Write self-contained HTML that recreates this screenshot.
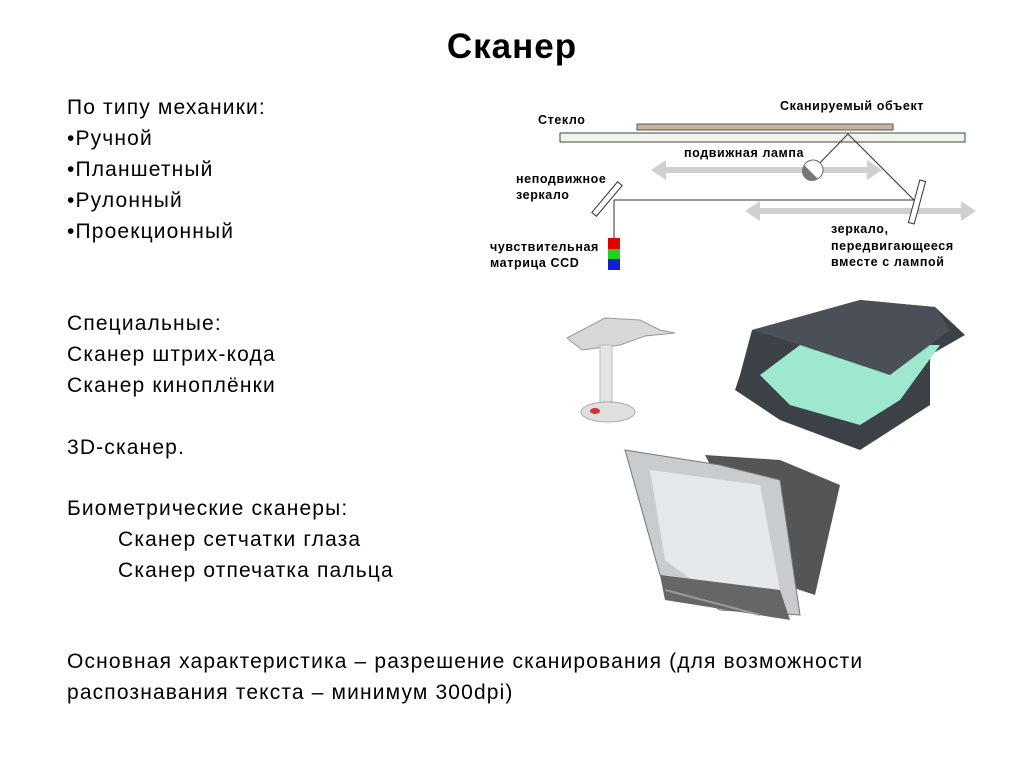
<!DOCTYPE html>
<html><head><meta charset="utf-8"><style>
body{margin:0;width:1024px;height:768px;background:#fff;overflow:hidden;position:relative;font-family:"Liberation Sans",sans-serif}
.t{position:absolute;font-size:21px;color:#000;white-space:nowrap;line-height:24px;letter-spacing:1.15px}
</style></head><body>
<div class="t" style="left:0;width:1024px;text-align:center;top:26px;font-size:35px;font-weight:bold;line-height:42px;letter-spacing:1px">Сканер</div>
<div class="t" style="left:67px;top:96px">По типу механики:</div>
<div class="t" style="left:67px;top:127px">•Ручной</div>
<div class="t" style="left:67px;top:158px">•Планшетный</div>
<div class="t" style="left:67px;top:189px">•Рулонный</div>
<div class="t" style="left:67px;top:220px">•Проекционный</div>
<div class="t" style="left:67px;top:312px">Специальные:</div>
<div class="t" style="left:67px;top:343px">Сканер штрих-кода</div>
<div class="t" style="left:67px;top:374px">Сканер киноплёнки</div>
<div class="t" style="left:67px;top:436px">3D-сканер.</div>
<div class="t" style="left:67px;top:497px">Биометрические сканеры:</div>
<div class="t" style="left:118px;top:528px">Сканер сетчатки глаза</div>
<div class="t" style="left:118px;top:559px">Сканер отпечатка пальца</div>
<div class="t" style="left:67px;top:650px">Основная характеристика – разрешение сканирования (для возможности</div>
<div class="t" style="left:67px;top:681px">распознавания текста – минимум 300dpi)</div>
<svg width="1024" height="768" style="position:absolute;left:0;top:0" font-family="Liberation Sans" font-weight="bold" font-size="12.5" letter-spacing="0.6">
<text x="538" y="124">Стекло</text>
<text x="780" y="110">Сканируемый объект</text>
<rect x="637" y="124" width="256" height="6" fill="#c8b49a" stroke="#555"/>
<rect x="560" y="133" width="405" height="9" fill="#eef6ea" stroke="#444"/>
<text x="684" y="157">подвижная лампа</text>
<g stroke="#d0d0d0" stroke-width="6" fill="#d0d0d0">
<line x1="662" y1="170" x2="870" y2="170"/><polygon points="651,170 666,160 666,180" stroke="none"/><polygon points="882,170 867,160 867,180" stroke="none"/>
<line x1="757" y1="211" x2="964" y2="211"/><polygon points="745,211 760,201 760,221" stroke="none"/><polygon points="976,211 961,201 961,221" stroke="none"/>
</g>
<polyline points="813,170 848,134 914,200 614,200 614,238" fill="none" stroke="#333" stroke-width="1"/>
<circle cx="813" cy="170" r="10" fill="#fff" stroke="#666"/>
<path d="M804,165 A10,10 0 0 0 818,179 Z" fill="#777"/>
<rect x="604" y="179" width="6" height="40" fill="#fff" stroke="#333" transform="rotate(40 607 199)"/>
<rect x="914" y="180" width="6" height="44" fill="#fff" stroke="#333" transform="rotate(15 917 202)"/>
<rect x="608" y="238" width="12" height="11" fill="#e00000"/><rect x="608" y="249" width="12" height="10" fill="#20d020"/><rect x="608" y="259" width="12" height="11" fill="#1020d0"/>
<text x="516" y="183">неподвижное</text><text x="516" y="199">зеркало</text>
<text x="490" y="251">чувствительная</text><text x="490" y="267">матрица CCD</text>
<text x="831" y="233">зеркало,</text><text x="831" y="250">передвигающееся</text><text x="831" y="266">вместе с лампой</text>
<path d="M567,338 L605,318 L640,320 L660,330 L675,333 L645,336 L620,345 L582,350 Z" fill="#d8d8d8" stroke="#999"/>
<rect x="600" y="345" width="12" height="60" fill="#e4e4e4" stroke="#bbb"/>
<ellipse cx="608" cy="412" rx="27" ry="10" fill="#e0e0e0" stroke="#aaa"/>
<ellipse cx="595" cy="411" rx="5" ry="3" fill="#c33"/>
<polygon points="752,330 860,300 935,307 965,335 930,355 930,405 860,450 780,420 735,390 740,375" fill="#3c4148"/>
<polygon points="760,375 800,345 940,345 900,400 860,425 790,405" fill="#9fe8d0"/>
<polygon points="752,330 860,300 935,307 950,330 890,375 800,345" fill="#4b5058"/>
<polygon points="705,455 780,460 840,485 815,595 770,580" fill="#555"/>
<polygon points="625,450 720,465 780,480 800,615 720,610 660,575" fill="#c8cccf" stroke="#777"/>
<polygon points="650,470 760,485 780,590 705,590 665,560" fill="#e4e8ea"/>
<polygon points="660,575 780,590 790,620 665,600" fill="#666"/>
<line x1="665" y1="590" x2="760" y2="615" stroke="#999" stroke-width="2"/>
</svg>
</body></html>
